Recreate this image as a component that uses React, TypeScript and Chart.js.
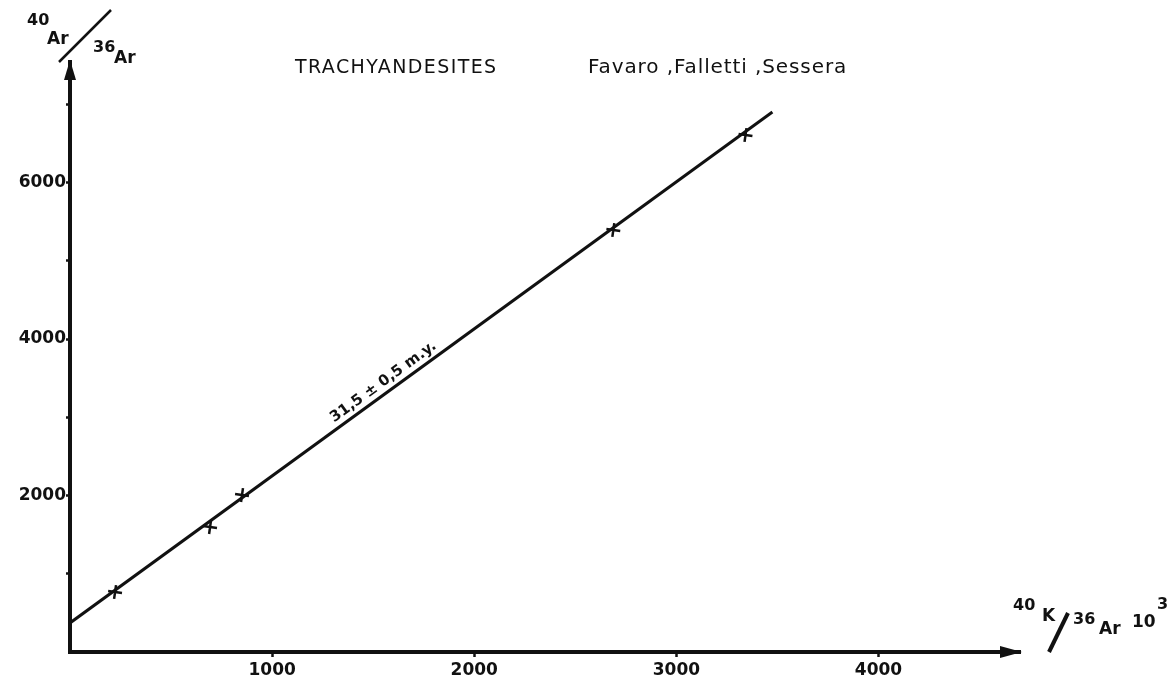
import React, { useEffect, useRef } from "react";
import { Chart, registerables } from "chart.js";

Chart.register(...registerables);

// Measured samples: 40K/36Ar (x 10^3) vs 40Ar/36Ar
const sampleX = [223, 693, 851, 2688, 3342];
const sampleY = [767, 1597, 2006, 5393, 6607];

// Isochron line end points as drawn
const isochronX = [0, 3475];
const isochronY = [371, 6901];

const xTickValues = [1000, 2000, 3000, 4000];
const yTickValues = [1000, 2000, 3000, 4000, 5000, 6000, 7000];
const yLabelled = [2000, 4000, 6000];

const xMax = 4700;
const yMax = 7540;

const titleText = "TRACHYANDESITES";
const authorsText = "Favaro ,Falletti ,Sessera";
const ageText = "31,5 ± 0,5 m.y.";

const INK = "#111111";
const FONT = "'DejaVu Sans', sans-serif";

const decorPlugin = {
  id: "decor",
  afterDraw(chart: any) {
    const ctx = chart.ctx as CanvasRenderingContext2D;
    const xs = chart.scales.x;
    const ys = chart.scales.y;
    const area = chart.chartArea;
    ctx.save();
    ctx.fillStyle = INK;
    ctx.strokeStyle = INK;

    // y axis arrow head
    const ax = area.left;
    ctx.beginPath();
    ctx.moveTo(ax, area.top - 2);
    ctx.lineTo(ax - 6, area.top + 18);
    ctx.lineTo(ax + 6, area.top + 18);
    ctx.closePath();
    ctx.fill();

    // x axis arrow head
    const ay = area.bottom;
    ctx.beginPath();
    ctx.moveTo(area.right + 2, ay);
    ctx.lineTo(area.right - 20, ay - 6);
    ctx.lineTo(area.right - 20, ay + 6);
    ctx.closePath();
    ctx.fill();

    // titles
    ctx.textBaseline = "alphabetic";
    ctx.textAlign = "left";
    ctx.font = `19px ${FONT}`;
    (ctx as any).letterSpacing = "1.4px";
    ctx.fillText(titleText, 295, 73);
    ctx.font = `20px ${FONT}`;
    (ctx as any).letterSpacing = "0.9px";
    ctx.fillText(authorsText, 588, 73);
    (ctx as any).letterSpacing = "0px";

    // y axis label: 40Ar / 36Ar
    ctx.font = `bold 16px ${FONT}`;
    ctx.fillText("40", 27, 25);
    ctx.fillText("36", 93, 52);
    ctx.font = `bold 17px ${FONT}`;
    ctx.fillText("Ar", 47, 44);
    ctx.fillText("Ar", 114, 63);
    ctx.lineWidth = 2.5;
    ctx.beginPath();
    ctx.moveTo(59, 62);
    ctx.lineTo(111, 10);
    ctx.stroke();

    // x axis label: 40K / 36Ar 10^3
    ctx.font = `bold 16px ${FONT}`;
    ctx.fillText("40", 1013, 610);
    ctx.fillText("36", 1073, 624);
    ctx.fillText("3", 1157, 609);
    ctx.font = `bold 17px ${FONT}`;
    ctx.fillText("K", 1042, 621);
    ctx.fillText("Ar", 1099, 634);
    ctx.fillText("10", 1132, 627);
    ctx.lineWidth = 4;
    ctx.beginPath();
    ctx.moveTo(1049, 652);
    ctx.lineTo(1068, 613);
    ctx.stroke();

    // age label along the isochron
    const x0 = xs.getPixelForValue(isochronX[0]);
    const y0 = ys.getPixelForValue(isochronY[0]);
    const x1 = xs.getPixelForValue(isochronX[1]);
    const y1 = ys.getPixelForValue(isochronY[1]);
    const ang = Math.atan2(y1 - y0, x1 - x0);
    const t = 0.455;
    const cx = x0 + (x1 - x0) * t;
    const cy = y0 + (y1 - y0) * t;
    ctx.translate(cx, cy);
    ctx.rotate(ang);
    ctx.font = `bold 15px ${FONT}`;
    ctx.textAlign = "center";
    ctx.textBaseline = "bottom";
    ctx.fillText(ageText, 0, -3);
    ctx.restore();
  },
};

export default function App() {
  const ref = useRef<HTMLCanvasElement | null>(null);
  useEffect(() => {
    if (!ref.current) return;
    const chart = new Chart(ref.current, {
      type: "scatter",
      data: {
        datasets: [
          {
            type: "line",
            data: isochronX.map((x, i) => ({ x, y: isochronY[i] })),
            borderColor: INK,
            borderWidth: 3,
            pointRadius: 0,
            fill: false,
          } as any,
          {
            data: sampleX.map((x, i) => ({ x, y: sampleY[i] })),
            pointStyle: "cross",
            pointRadius: 7,
            pointRotation: 8,
            borderColor: INK,
            backgroundColor: INK,
            borderWidth: 2.5,
          },
        ],
      },
      plugins: [decorPlugin],
      options: {
        responsive: false,
        animation: false,
        devicePixelRatio: 1,
        layout: { padding: { top: 62, right: 154, left: 0, bottom: 0 } },
        plugins: { legend: { display: false }, tooltip: { enabled: false }, title: { display: false } },
        scales: {
          x: {
            type: "linear",
            min: 0,
            max: xMax,
            afterFit: (s: any) => {
              s.height = 34;
            },
            afterBuildTicks: (s: any) => {
              s.ticks = xTickValues.map((v) => ({ value: v }));
            },
            border: { color: INK, width: 4 },
            grid: { drawOnChartArea: false, drawTicks: true, tickLength: 5, tickWidth: 2.5, tickColor: INK },
            ticks: {
              color: INK,
              font: { family: "'DejaVu Sans', sans-serif", size: 17, weight: "bold" },
              padding: 3,
              maxRotation: 0,
              autoSkip: false,
              callback: (v: any) => String(v),
            },
          },
          y: {
            type: "linear",
            min: 0,
            max: yMax,
            afterFit: (s: any) => {
              s.width = 70;
            },
            afterBuildTicks: (s: any) => {
              s.ticks = yTickValues.map((v) => ({ value: v }));
            },
            border: { color: INK, width: 4 },
            grid: { drawOnChartArea: false, drawTicks: true, tickLength: 4, tickWidth: 2.5, tickColor: INK },
            ticks: {
              color: INK,
              font: { family: "'DejaVu Sans', sans-serif", size: 17, weight: "bold" },
              padding: 0,
              autoSkip: false,
              callback: (v: any) => (yLabelled.includes(Number(v)) ? String(v) : ""),
            },
          },
        },
      },
    });
    return () => chart.destroy();
  }, []);
  return (
    <div style={{ position: "absolute", left: 0, top: 0, width: 1174, height: 686, background: "#fff" }}>
      <canvas ref={ref} width={1174} height={686} style={{ width: 1174, height: 686 }} />
    </div>
  );
}
